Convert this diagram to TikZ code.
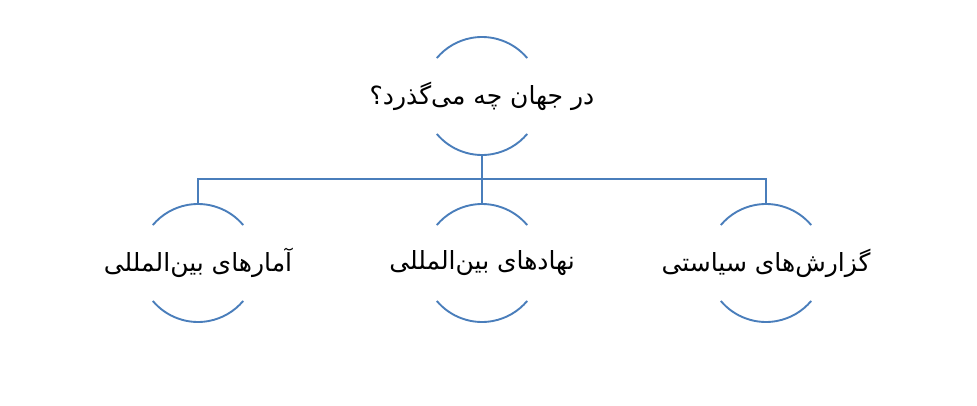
\documentclass[tikz,border=0pt]{standalone}
\usepackage{fontspec}
\newfontfamily\farsi[Script=Arabic]{DejaVu Sans}
\TeXXeTstate=1
\definecolor{arcblue}{HTML}{4A7EBB}

\begin{document}
\begin{tikzpicture}[x=1pt,y=1pt,
    ring/.style={circle,draw=none,minimum size=118pt,inner sep=0pt,outer sep=0pt},
    lbl/.style={draw=none,font=\farsi\fontsize{25}{30}\selectfont},
    arcline/.style={draw=arcblue,line width=1.9pt}]
             \useasboundingbox (0,0) rectangle (977,405);

             \node[ring] (hub) at (482,309) {};
             \node[ring] (stats) at (198,142) {};
             \node[ring] (inst) at (482,142) {};
             \node[ring] (report) at (766,142) {};
             \coordinate (bar) at (482,226);

             \foreach \n in {hub,stats,inst,report}{
               \draw[arcline] (\n.40) arc[start angle=40,end angle=140,radius=59pt];
               \draw[arcline] (\n.220) arc[start angle=220,end angle=320,radius=59pt];
             }

             \draw[arcline] (hub.south) -- (bar);
             \draw[arcline] (stats.north) |- (bar) -| (report.north);
             \draw[arcline] (bar) -- (inst.north);

             \node[lbl] (hubtext) at (hub) {\beginR در جهان چه می‌گذرد؟\endR};
             \node[lbl] (statstext) at (stats) {\beginR آمارهای بین‌المللی\endR};
             \node[lbl] (insttext) at (inst) {\beginR نهادهای بین‌المللی\endR};
             \node[lbl] (reporttext) at (report) {\beginR گزارش‌های سیاستی\endR};
\end{tikzpicture}
\end{document}
